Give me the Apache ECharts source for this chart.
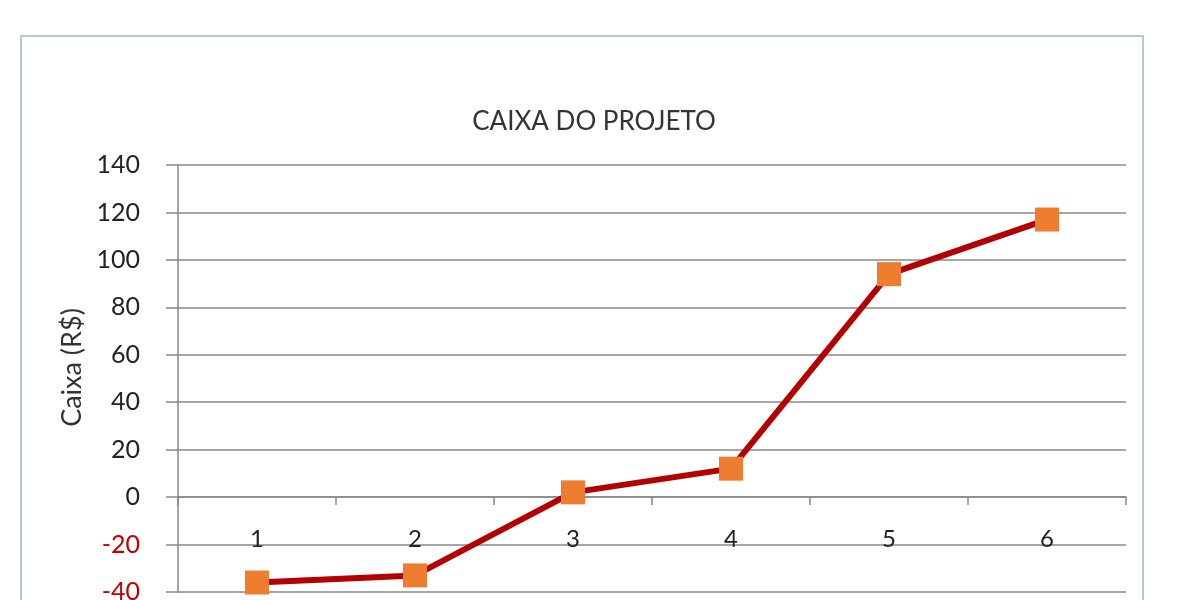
<!DOCTYPE html>
<html>
<head>
<meta charset="utf-8">
<script src="https://cdn.jsdelivr.net/npm/echarts@6/dist/echarts.min.js"></script>
<style>
html,body{margin:0;padding:0;background:#fff;overflow:hidden;}
#chart{width:1200px;height:600px;}
</style>
</head>
<body>
<div id="chart"></div>
<script>
const categories = ['1', '2', '3', '4', '5', '6'];
const caixaValues = [-36, -33, 2, 12, 94, 117];
const chartTitle = 'CAIXA DO PROJETO';
const yAxisTitle = 'Caixa (R$)';

const chart = echarts.init(document.getElementById('chart'));
const font = 'Lato, "Open Sans", sans-serif';
chart.setOption({
  backgroundColor: '#ffffff',
  animation: false,
  title: {
    text: chartTitle,
    left: 589, top: 104, textAlign: 'center',
    textStyle: {fontFamily: font, fontSize: 26, fontWeight: 'normal', color: '#333333'}
  },
  graphic: [{
    type: 'rect', silent: true,
    shape: {x: 21, y: 36, width: 1122, height: 700},
    style: {fill: 'none', stroke: '#9cb8ca', lineWidth: 1.5}
  }],
  grid: {left: 178, top: 165, width: 948, height: 427, containLabel: false, outerBoundsMode: 'none'},
  xAxis: {
    type: 'category', data: categories, boundaryGap: true,
    position: 'bottom', offset: -95,
    axisLine: {onZero: false, lineStyle: {color: '#888888', width: 1.5}},
    axisTick: {show: true, length: 8, inside: false, lineStyle: {color: '#888888', width: 1.5}},
    axisLabel: {margin: 30, fontFamily: font, fontSize: 24, color: '#222222'},
    splitLine: {show: false}
  },
  yAxis: {
    type: 'value', min: -40, max: 140, interval: 20,
    name: yAxisTitle, nameLocation: 'middle', nameGap: 92,
    nameTextStyle: {fontFamily: font, fontSize: 27, color: '#333333', padding: [0, 0, 0, 22]},
    axisLine: {show: true, lineStyle: {color: '#888888', width: 1.5}},
    axisTick: {show: true, length: 12, lineStyle: {color: '#888888', width: 1.5}},
    axisLabel: {
      margin: 38, fontFamily: font, fontSize: 25,
      formatter: function (v) { return v < 0 ? '{neg|' + v + '}' : '{pos|' + v + '}'; },
      rich: {
        neg: {color: '#c00000', fontFamily: font, fontSize: 25},
        pos: {color: '#222222', fontFamily: font, fontSize: 25}
      }
    },
    splitLine: {show: true, lineStyle: {color: '#888888', width: 1.5}}
  },
  series: [{
    type: 'line', data: caixaValues,
    symbol: 'rect', symbolSize: 24,
    lineStyle: {color: '#b30000', width: 6},
    itemStyle: {color: '#ee7d2f', borderWidth: 0},
    z: 5
  }]
});
</script>
</body>
</html>
